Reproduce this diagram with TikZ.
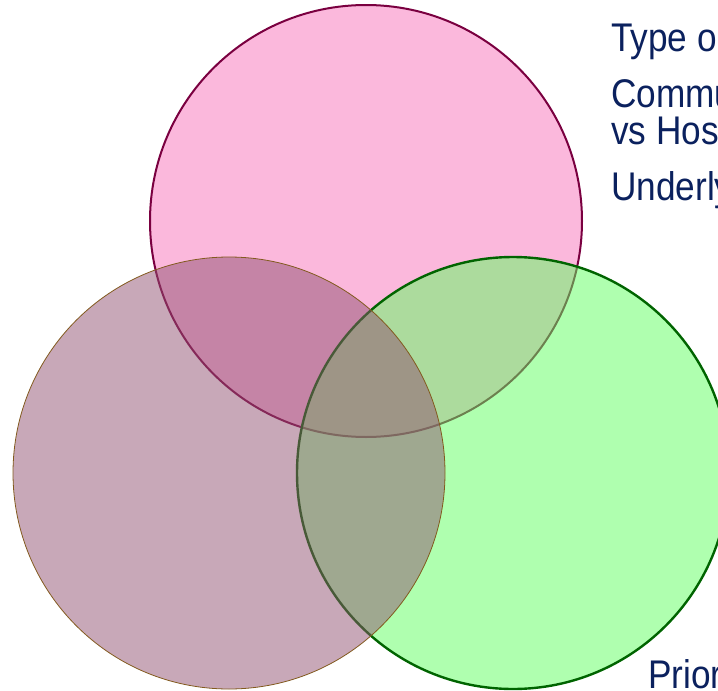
\documentclass[tikz,border=0pt]{standalone}
\usepackage{fontspec}
\setmainfont{Liberation Sans}[FakeStretch=0.88]
\begin{document}
\begin{tikzpicture}[x=1pt,y=-1pt,
  lbl/.style={anchor=base west,inner sep=0pt,text=navy,font=\fontsize{40}{40}\selectfont}]
\definecolor{navy}{RGB}{11,33,94}
\definecolor{pinkfill}{RGB}{251,184,220}
\definecolor{pinkline}{RGB}{122,0,64}
\definecolor{greenfill}{RGB}{95,255,95}
\definecolor{greenline}{RGB}{0,100,0}
\definecolor{brownfill}{RGB}{145,81,113}
\definecolor{brownline}{RGB}{130,90,30}
\useasboundingbox (0,0) rectangle (718,691);
\begin{scope}
\clip (0,0) rectangle (718,691);
% upper circle
\fill[pinkfill] (366,221) circle[radius=216];
\draw[pinkline,line width=2pt] (366,221) circle[radius=216];
% lower right circle, translucent
\fill[greenfill,fill opacity=0.5] (513,473) circle[radius=216];
\draw[greenline,line width=2.4pt] (513,473) circle[radius=216];
% lower left circle, translucent
\fill[brownfill,fill opacity=0.5] (229,473) circle[radius=216];
\draw[brownline,line width=0.8pt] (229,473) circle[radius=216];
\end{scope}
\node[lbl] (t1) at (611,51) {Type o};
\node[lbl] (t2) at (611,107) {Commu};
\node[lbl] (t3) at (611,144) {vs Hos};
\node[lbl] (t4) at (611,200) {Underly};
\node[lbl] (t5) at (648,688) {Prior};
\end{tikzpicture}
\end{document}
